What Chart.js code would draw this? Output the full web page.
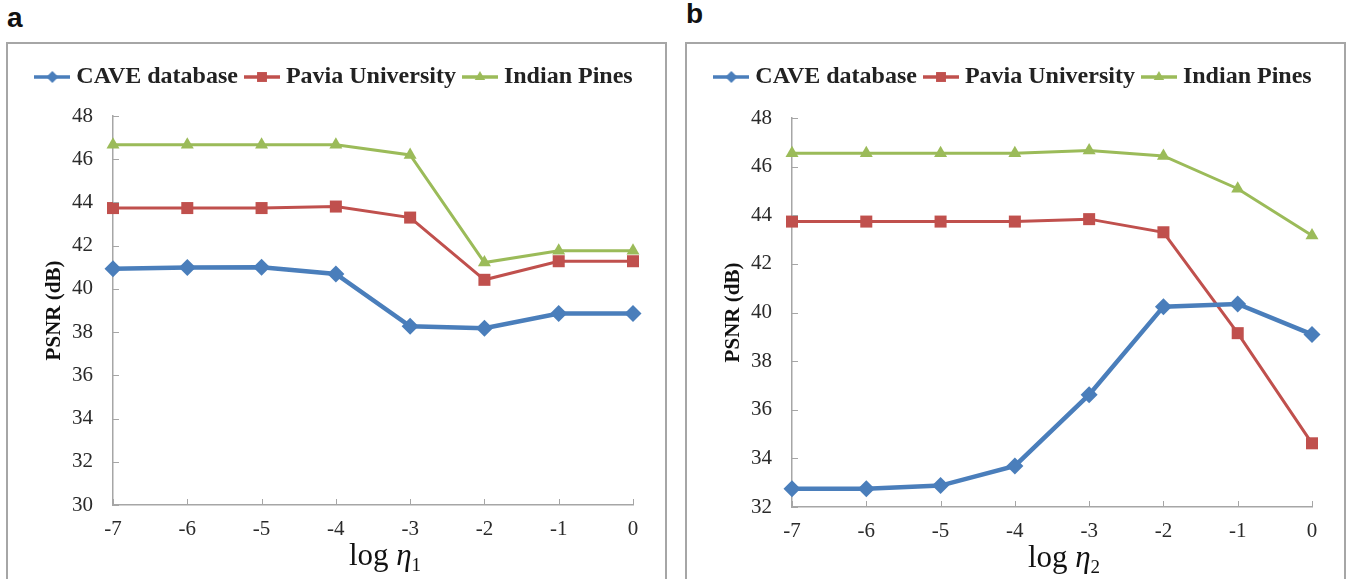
<!DOCTYPE html>
<html>
<head>
<meta charset="utf-8">
<script src="https://cdn.jsdelivr.net/npm/chart.js@4"></script>
<style>
  html, body { margin: 0; padding: 0; background: #fff; overflow: hidden; }
  body { width: 1352px; height: 579px; position: relative; }
  .tag { position: absolute; font: bold 28px "Liberation Sans", Arial, sans-serif; color: #111; }
  .box { position: absolute; top: 42px; width: 657px; height: 560px; border: 2px solid #a6a6a6; border-bottom: none; }
  .box canvas { position: absolute; left: 0; top: 0; }
</style>
</head>
<body>
<div class="tag" style="left:7px; top:2px;">a</div>
<div class="tag" style="left:686px; top:-2px;">b</div>
<div class="box" style="left:6px;"><canvas id="graficoA" width="657" height="545"></canvas></div>
<div class="box" style="left:685px;"><canvas id="graficoB" width="657" height="545"></canvas></div>
<script>
var rotulos = ['-7', '-6', '-5', '-4', '-3', '-2', '-1', '0'];

var caveA = [40.93, 40.99, 41.0, 40.69, 38.27, 38.18, 38.86, 38.86];
var paviaA = [43.74, 43.74, 43.74, 43.81, 43.3, 40.42, 41.28, 41.28];
var pinesA = [46.67, 46.67, 46.67, 46.67, 46.2, 41.22, 41.76, 41.76];

var caveB = [32.75, 32.75, 32.88, 33.69, 36.62, 40.24, 40.35, 39.1];
var paviaB = [43.74, 43.74, 43.74, 43.74, 43.84, 43.3, 39.15, 34.62];
var pinesB = [46.55, 46.55, 46.55, 46.55, 46.66, 46.44, 45.09, 43.17];

var nomes = ['CAVE database', 'Pavia University', 'Indian Pines'];

var AZUL = '#4a7ebb';
var VERMELHO = '#c0504d';
var VERDE = '#9bbb59';
var CINZA = '#a6a6a6';
var SERIF = '"Liberation Serif", "Times New Roman", serif';

// desenha a amostra da legenda: linha + marcador
function amostraLegenda(cor, estilo, espessura, raio) {
  var c = document.createElement('canvas');
  c.width = 36;
  c.height = 18;
  var ctx = c.getContext('2d');
  ctx.strokeStyle = cor;
  ctx.lineWidth = espessura;
  ctx.beginPath();
  ctx.moveTo(0, 9);
  ctx.lineTo(36, 9);
  ctx.stroke();
  ctx.fillStyle = cor;
  Chart.helpers.drawPoint(ctx, { pointStyle: estilo, radius: raio, borderWidth: 0 }, 18, 9);
  return c;
}

// marcas de escala para dentro da area do grafico
var marcasInternas = {
  id: 'marcasInternas',
  afterDatasetsDraw: function (chart) {
    var ctx = chart.ctx;
    var x = chart.scales.x;
    var y = chart.scales.y;
    var area = chart.chartArea;
    ctx.save();
    ctx.strokeStyle = CINZA;
    ctx.lineWidth = 1;
    y.ticks.forEach(function (t) {
      var py = Math.round(y.getPixelForValue(t.value)) + 0.5;
      ctx.beginPath();
      ctx.moveTo(area.left, py);
      ctx.lineTo(area.left + 6, py);
      ctx.stroke();
    });
    x.ticks.forEach(function (t, i) {
      var px = Math.round(x.getPixelForTick(i)) + 0.5;
      ctx.beginPath();
      ctx.moveTo(px, area.bottom);
      ctx.lineTo(px, area.bottom - 6);
      ctx.stroke();
    });
    ctx.restore();
  }
};

// sobe a legenda, deixando espaco entre ela e o grafico
var subirLegenda = {
  id: 'subirLegenda',
  afterLayout: function (chart, args, opts) {
    var lg = chart.legend;
    if (!lg) return;
    lg.top -= opts.desloc;
    lg.bottom -= opts.desloc;
  }
};

// titulo do eixo x: log eta com indice
var tituloEixoX = {
  id: 'tituloEixoX',
  afterDraw: function (chart, args, opts) {
    var ctx = chart.ctx;
    var area = chart.chartArea;
    ctx.save();
    ctx.fillStyle = '#111';
    ctx.textBaseline = 'alphabetic';
    var partes = [
      { t: 'log', f: '31px ' + SERIF, dy: 0 },
      { t: ' ', f: '31px ' + SERIF, dy: 0 },
      { t: '\u03B7', f: 'italic 31px ' + SERIF, dy: 0 },
      { t: opts.indice, f: '19px ' + SERIF, dy: 6 }
    ];
    var total = 0;
    partes.forEach(function (p) { ctx.font = p.f; p.w = ctx.measureText(p.t).width; total += p.w; });
    var cx = (area.left + area.right) / 2 + 12;
    var px = cx - total / 2;
    var base = area.bottom + 60;
    partes.forEach(function (p) {
      ctx.font = p.f;
      ctx.fillText(p.t, px, base + p.dy);
      px += p.w;
    });
    ctx.restore();
  }
};

function criarGrafico(id, cave, pavia, pines, minimo, indice, topo, altX, desloc) {
  return new Chart(
    document.getElementById(id),
    {
      type: 'line',
      plugins: [marcasInternas, tituloEixoX, subirLegenda],
      data: {
        labels: rotulos,
        datasets: [
          {
            label: nomes[0],
            data: cave,
            borderColor: AZUL,
            backgroundColor: AZUL,
            borderWidth: 4.5,
            pointStyle: 'rectRot',
            pointRadius: 8.5,
            pointBorderWidth: 0,
            clip: false,
            legendImg: amostraLegenda(AZUL, 'rectRot', 3.5, 6)
          },
          {
            label: nomes[1],
            data: pavia,
            borderColor: VERMELHO,
            backgroundColor: VERMELHO,
            borderWidth: 3,
            pointStyle: 'rect',
            pointRadius: 8.5,
            pointBorderWidth: 0,
            clip: false,
            legendImg: amostraLegenda(VERMELHO, 'rect', 3.5, 7)
          },
          {
            label: nomes[2],
            data: pines,
            borderColor: VERDE,
            backgroundColor: VERDE,
            borderWidth: 3,
            pointStyle: 'triangle',
            pointRadius: 7.5,
            pointBorderWidth: 0,
            clip: false,
            legendImg: amostraLegenda(VERDE, 'triangle', 3.5, 6)
          }
        ]
      },
      options: {
        responsive: false,
        animation: false,
        layout: { padding: { top: 0, left: 0, right: 0, bottom: 0 } },
        plugins: {
          tooltip: { enabled: false },
          tituloEixoX: { indice: indice },
          subirLegenda: { desloc: desloc },
          legend: {
            position: 'top',
            labels: {
              usePointStyle: true,
              pointStyleWidth: 24,
              boxHeight: 18,
              padding: 12,
              color: '#222',
              font: { family: SERIF, size: 24, weight: 'bold' },
              generateLabels: function (chart) {
                return chart.data.datasets.map(function (ds, i) {
                  return {
                    text: ds.label,
                    pointStyle: ds.legendImg,
                    fillStyle: ds.borderColor,
                    strokeStyle: ds.borderColor,
                    lineWidth: 0,
                    fontColor: '#222',
                    datasetIndex: i
                  };
                });
              }
            }
          }
        },
        scales: {
          x: {
            type: 'category',
            offset: false,
            afterFit: function (s) { s.height = altX; s.paddingRight = 32; },
            grid: { display: true, drawOnChartArea: false, drawTicks: false },
            border: { color: CINZA, width: 1.5 },
            ticks: { color: '#2a2a2a', padding: 12, font: { family: SERIF, size: 21 }, maxRotation: 0 }
          },
          y: {
            min: minimo,
            max: 48,
            afterFit: function (s) { s.width = 105; s.paddingTop = topo; },
            grid: { display: true, drawOnChartArea: false, drawTicks: false },
            border: { color: CINZA, width: 1.5 },
            ticks: { stepSize: 2, color: '#2a2a2a', padding: 20, font: { family: SERIF, size: 21 } },
            title: {
              display: true,
              text: 'PSNR (dB)',
              color: '#111',
              padding: { top: 34, bottom: 0 },
              font: { family: SERIF, size: 21, weight: 'bold' }
            }
          }
        }
      }
    }
  );
}

criarGrafico('graficoA', caveA, paviaA, pinesA, 30, '1', 72, 84, 17);
criarGrafico('graficoB', caveB, paviaB, pinesB, 32, '2', 74, 82, 19);
</script>
</body>
</html>
